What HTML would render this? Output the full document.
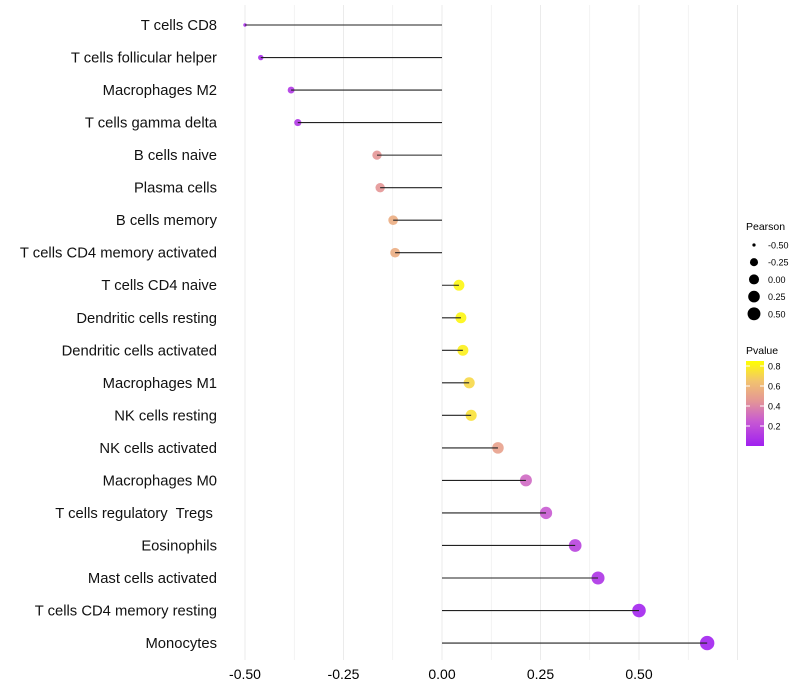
<!DOCTYPE html>
<html><head><meta charset="utf-8"><style>
body{margin:0;background:#fff}
svg{display:block;font-family:"Liberation Sans",sans-serif}
</style></head><body>
<svg id="c" width="800" height="700"></svg>
<script>
const categories=["T cells CD8","T cells follicular helper","Macrophages M2","T cells gamma delta","B cells naive","Plasma cells","B cells memory","T cells CD4 memory activated","T cells CD4 naive","Dendritic cells resting","Dendritic cells activated","Macrophages M1","NK cells resting","NK cells activated","Macrophages M0","T cells regulatory  Tregs ","Eosinophils","Mast cells activated","T cells CD4 memory resting","Monocytes"];
const pearson=[-0.50,-0.46,-0.383,-0.366,-0.165,-0.157,-0.124,-0.119,0.043,0.048,0.053,0.069,0.074,0.142,0.213,0.264,0.338,0.396,0.50,0.673];
const pvalue=[0.05,0.05,0.1,0.1,0.45,0.45,0.55,0.55,0.82,0.82,0.8,0.72,0.75,0.5,0.3,0.25,0.15,0.08,0.02,0.01];
const xTicks=[-0.5,-0.25,0,0.25,0.5];
const xTickLabels=["-0.50","-0.25","0.00","0.25","0.50"];
const sizeLegend=[-0.5,-0.25,0,0.25,0.5];
const pTicks=[0.2,0.4,0.6,0.8];

const svg=document.getElementById('c');
const NS="http://www.w3.org/2000/svg";
function mk(t,a,parent){const e=document.createElementNS(NS,t);for(const k in a)e.setAttribute(k,a[k]);(parent||svg).appendChild(e);return e;}
const X=v=>442+v*394;
const Y=i=>25+i*32.53;
const R=v=>1.7+5.5*Math.sqrt(Math.max(0,(v+0.5)/1.17));
const stops=[[0,[160,32,240]],[0.25,[200,90,210]],[0.45,[228,150,150]],[0.65,[242,195,110]],[0.85,[255,255,0]]];
function col(p){p=Math.max(0,Math.min(0.85,p));for(let i=1;i<stops.length;i++){if(p<=stops[i][0]){const a=stops[i-1],b=stops[i],t=(p-a[0])/(b[0]-a[0]);const c=a[1].map((v,j)=>Math.round(v+(b[1][j]-v)*t));return `rgb(${c})`;}}return 'rgb(255,255,0)';}

for(let v=-0.5;v<=0.75;v+=0.125){const g=mk('line',{x1:X(v),x2:X(v),y1:5,y2:660,stroke:'#ebebeb','stroke-width':Math.abs((v*4)%1)<0.01?1:0.6});
}
xTicks.forEach((v,i)=>{const t=mk('text',{x:X(v),y:679,'text-anchor':'middle','font-size':14,fill:'#000'});t.textContent=xTickLabels[i];
});
categories.forEach((c,i)=>{
 const t=mk('text',{x:217,y:Y(i)+5,'text-anchor':'end','font-size':14.8,fill:'#111'});t.style.whiteSpace='pre';t.textContent=c;
 
 const p=mk('circle',{cx:X(pearson[i]),cy:Y(i),r:R(pearson[i]),fill:col(pvalue[i]),'fill-opacity':0.9});
 
 const l=mk('line',{x1:X(0),x2:X(pearson[i]),y1:Y(i),y2:Y(i),stroke:'#222','stroke-width':1.1});
 
});
let t=mk('text',{x:746,y:230,'font-size':10.5,fill:'#000'});t.textContent='Pearson';

sizeLegend.forEach((v,i)=>{const y=245+i*17.2;
 const c=mk('circle',{cx:754,cy:y,r:R(v)*0.95,fill:'#000'});
 const s=mk('text',{x:768,y:y+3.5,'font-size':9,fill:'#000'});s.textContent=v.toFixed(2);
 });
t=mk('text',{x:746,y:354,'font-size':10.5,fill:'#000'});t.textContent='Pvalue';

const defs=mk('defs',{});const lg=mk('linearGradient',{id:'pg',x1:0,y1:1,x2:0,y2:0},defs);
stops.forEach(s=>mk('stop',{offset:s[0]/0.85,'stop-color':`rgb(${s[1]})`},lg));
const cb=mk('rect',{x:746,y:361,width:18,height:85,fill:'url(#pg)'});

const PY=p=>446-p*100;
pTicks.forEach(p=>{mk('line',{x1:746,x2:750,y1:PY(p),y2:PY(p),stroke:'#fff'});mk('line',{x1:760,x2:764,y1:PY(p),y2:PY(p),stroke:'#fff'});
 const s=mk('text',{x:768,y:PY(p)+3.5,'font-size':9,fill:'#000'});s.textContent=p.toFixed(1);
 });
</script>
</body></html>
